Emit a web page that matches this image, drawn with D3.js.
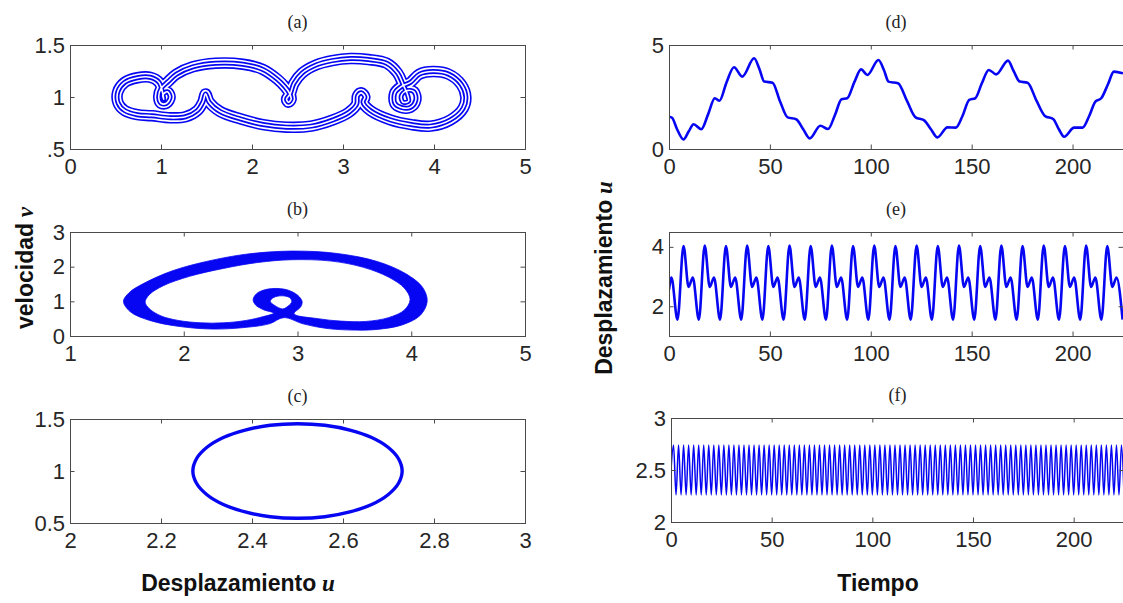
<!DOCTYPE html>
<html><head><meta charset="utf-8">
<script src="https://cdn.jsdelivr.net/npm/d3@7"></script>
<style>html,body{margin:0;padding:0;background:#fff}svg{display:block}</style>
</head><body>
<svg id="c" width="1123" height="603"></svg>
<script>
// ---------- DATA ----------
// (a) phase portrait orbit, pairs [u, v]
const orbitA = [
[1.49,1.03],[1.53,0.95],[1.65,0.86],[1.87,0.79],[2.12,0.735],[2.38,0.71],[2.65,0.72],[2.89,0.78],[3.06,0.85],[3.15,0.93],
[3.16,1.01],[3.2,1.04],[3.24,1.0],[3.22,0.95],[3.3,0.87],[3.52,0.78],[3.75,0.735],[3.96,0.72],[4.18,0.78],[4.32,0.89],
[4.35,1.0],[4.3,1.12],[4.16,1.22],[3.99,1.245],[3.84,1.22],[3.74,1.14],[3.64,1.1],[3.57,1.04],[3.57,0.94],[3.64,0.9],
[3.74,0.9],[3.8,0.97],[3.78,1.05],[3.7,1.06],[3.64,1.01],[3.66,0.95],[3.72,0.96],[3.71,1.02],[3.66,1.12],[3.6,1.23],
[3.48,1.325],[3.28,1.36],[3.08,1.37],[2.88,1.35],[2.71,1.31],[2.55,1.23],[2.46,1.13],[2.42,1.03],[2.38,0.98],[2.4,0.95],
[2.43,0.98],[2.41,1.04],[2.36,1.1],[2.28,1.17],[2.12,1.265],[1.9,1.315],[1.6,1.325],[1.35,1.29],[1.17,1.22],[1.08,1.15],
[1.0,1.08],[0.975,1.0],[1.0,0.94],[1.06,0.94],[1.1,1.0],[1.07,1.05],[1.02,1.02],[1.03,0.98],[0.98,1.14],[0.88,1.19],
[0.74,1.185],[0.6,1.14],[0.525,1.05],[0.53,0.94],[0.6,0.87],[0.74,0.83],[0.9,0.82],[1.1,0.8],[1.27,0.81],[1.4,0.87],
[1.46,0.95]
];
// (b) band of orbits: outer edge, large hole, small hole [u, v]
const bandOuterB = [
[1.47,1.0],[1.52,1.25],[1.65,1.52],[1.9,1.88],[2.2,2.15],[2.55,2.36],[2.95,2.45],[3.35,2.38],[3.7,2.15],[3.95,1.8],
[4.1,1.4],[4.14,1.0],[4.08,0.6],[3.92,0.32],[3.7,0.19],[3.5,0.17],[3.25,0.22],[3.05,0.35],[2.88,0.53],[2.75,0.35],
[2.55,0.25],[2.26,0.2],[1.95,0.28],[1.7,0.45],[1.53,0.7]
];
const holeBigB = [
[2.97,0.64],[3.03,0.85],[3.04,1.0],[3.0,1.18],[2.92,1.32],[2.83,1.37],[2.72,1.34],[2.64,1.22],[2.61,1.05],[2.63,0.9],
[2.7,0.76],[2.79,0.66],[2.7,0.56],[2.55,0.45],[2.35,0.38],[2.15,0.38],[1.95,0.45],[1.8,0.58],[1.7,0.78],[1.66,0.98],
[1.7,1.2],[1.82,1.45],[2.05,1.72],[2.35,1.95],[2.65,2.12],[2.95,2.2],[3.3,2.16],[3.58,1.98],[3.8,1.7],[3.94,1.38],
[3.99,1.05],[3.94,0.75],[3.8,0.53],[3.6,0.42],[3.38,0.43],[3.18,0.5]
];
const holeSmallB = [
[2.76,1.0],[2.79,1.11],[2.86,1.16],[2.93,1.11],[2.95,0.99],[2.92,0.87],[2.87,0.78],[2.8,0.88]
];
// (c) limit cycle [u, v]
const cycleC = [
[2.73,1.0],[2.722,1.118],[2.699,1.228],[2.663,1.322],[2.615,1.394],[2.56,1.44],[2.5,1.455],[2.44,1.44],
[2.385,1.394],[2.337,1.322],[2.301,1.228],[2.278,1.118],[2.27,1.0],[2.278,0.882],[2.301,0.772],[2.337,0.678],
[2.385,0.606],[2.44,0.56],[2.5,0.545],[2.56,0.56],[2.615,0.606],[2.663,0.678],[2.699,0.772],[2.722,0.882]
];
// (d) time series
const tD = [0,1.5,4,7.2,9.8,12.2,16,19.5,22.7,25,28.5,32.2,36.3,42.2,44.8,47.2,51.3,55,58.8,63,66.5,69.7,75,78.8,82.3,
85.5,88.3,91.8,95.2,98.3,103.8,106.5,108.8,113.5,118,122.2,126.3,129.8,133,138,142.2,145.5,148.8,151.8,155,158.5,
162.2,168,170.8,173.8,177.7,182,186.3,190.5,193.2,195.8,200.8,205,208.3,211.3,214.2,217.5,220.5,225];
const uD = [1.55,1.5,0.95,0.46,0.85,1.19,0.95,1.7,2.44,2.32,3.2,3.93,3.48,4.36,3.85,3.24,3.19,2.3,1.52,1.43,0.95,0.51,
1.12,0.96,1.65,2.39,2.44,3.2,3.83,3.56,4.28,3.8,3.24,3.16,2.3,1.52,1.39,0.95,0.56,1.04,1.03,1.6,2.36,2.44,3.15,3.8,
3.59,4.25,3.75,3.24,3.19,2.35,1.59,1.43,0.95,0.59,1.03,1.03,1.6,2.28,2.44,3.1,3.72,3.64];
// (e) time series
const tE = [0,1.2,4.2,
7.2,9.7,11.8,14.8, 17.7,20.2,22.3,25.3, 28.2,30.7,32.8,35.8, 38.7,41.2,43.3,46.3,
49.2,51.7,53.8,56.8, 59.7,62.2,64.3,67.3, 70.2,72.7,74.8,77.8, 80.7,83.2,85.3,88.3,
91.2,93.7,95.8,98.8, 101.7,104.2,106.3,109.3, 112.2,114.7,116.8,119.8, 122.7,125.2,127.3,130.3,
133.2,135.7,137.8,140.8, 143.7,146.2,148.3,151.3, 154.2,156.7,158.8,161.8, 164.7,167.2,169.3,172.3,
175.2,177.7,179.8,182.8, 185.7,188.2,190.3,193.3, 196.2,198.7,200.8,203.8, 206.7,209.2,211.3,214.3,
217.2,219.7,221.8,224.8];
const uE = [2.55,2.97,1.55,
4.03,2.65,2.97,1.55, 4.04,2.65,2.97,1.55, 4.03,2.65,2.97,1.55, 4.04,2.65,2.97,1.55,
4.03,2.65,2.97,1.55, 4.04,2.65,2.97,1.55, 4.03,2.65,2.97,1.55, 4.04,2.65,2.97,1.55,
4.03,2.65,2.97,1.55, 4.04,2.65,2.97,1.55, 4.03,2.65,2.97,1.55, 4.04,2.65,2.97,1.55,
4.03,2.65,2.97,1.55, 4.04,2.65,2.97,1.55, 4.03,2.65,2.97,1.55, 4.04,2.65,2.97,1.55,
4.03,2.65,2.97,1.55, 4.04,2.65,2.97,1.55, 4.03,2.65,2.97,1.55, 4.04,2.65,2.97,1.55,
4.03,2.65,2.97,1.55];
// (f) time series
const tF = [
0,1.25,2.5,3.75,5,6.25,7.5,8.75,10,11.25,12.5,13.75,15,16.25,17.5,18.75,
20,21.25,22.5,23.75,25,26.25,27.5,28.75,30,31.25,32.5,33.75,35,36.25,37.5,38.75,
40,41.25,42.5,43.75,45,46.25,47.5,48.75,50,51.25,52.5,53.75,55,56.25,57.5,58.75,
60,61.25,62.5,63.75,65,66.25,67.5,68.75,70,71.25,72.5,73.75,75,76.25,77.5,78.75,
80,81.25,82.5,83.75,85,86.25,87.5,88.75,90,91.25,92.5,93.75,95,96.25,97.5,98.75,
100,101.25,102.5,103.75,105,106.25,107.5,108.75,110,111.25,112.5,113.75,115,116.25,117.5,118.75,
120,121.25,122.5,123.75,125,126.25,127.5,128.75,130,131.25,132.5,133.75,135,136.25,137.5,138.75,
140,141.25,142.5,143.75,145,146.25,147.5,148.75,150,151.25,152.5,153.75,155,156.25,157.5,158.75,
160,161.25,162.5,163.75,165,166.25,167.5,168.75,170,171.25,172.5,173.75,175,176.25,177.5,178.75,
180,181.25,182.5,183.75,185,186.25,187.5,188.75,190,191.25,192.5,193.75,195,196.25,197.5,198.75,
200,201.25,202.5,203.75,205,206.25,207.5,208.75,210,211.25,212.5,213.75,215,216.25,217.5,218.75,
220,221.25,222.5,223.75,225];
const uF = [2.5,
2.74,2.26,2.74,2.26,2.74,2.26,2.74,2.26,2.74,2.26,2.74,2.26,2.74,2.26,2.74,2.26,
2.74,2.26,2.74,2.26,2.74,2.26,2.74,2.26,2.74,2.26,2.74,2.26,2.74,2.26,2.74,2.26,
2.74,2.26,2.74,2.26,2.74,2.26,2.74,2.26,2.74,2.26,2.74,2.26,2.74,2.26,2.74,2.26,
2.74,2.26,2.74,2.26,2.74,2.26,2.74,2.26,2.74,2.26,2.74,2.26,2.74,2.26,2.74,2.26,
2.74,2.26,2.74,2.26,2.74,2.26,2.74,2.26,2.74,2.26,2.74,2.26,2.74,2.26,2.74,2.26,
2.74,2.26,2.74,2.26,2.74,2.26,2.74,2.26,2.74,2.26,2.74,2.26,2.74,2.26,2.74,2.26,
2.74,2.26,2.74,2.26,2.74,2.26,2.74,2.26,2.74,2.26,2.74,2.26,2.74,2.26,2.74,2.26,
2.74,2.26,2.74,2.26,2.74,2.26,2.74,2.26,2.74,2.26,2.74,2.26,2.74,2.26,2.74,2.26,
2.74,2.26,2.74,2.26,2.74,2.26,2.74,2.26,2.74,2.26,2.74,2.26,2.74,2.26,2.74,2.26,
2.74,2.26,2.74,2.26,2.74,2.26,2.74,2.26,2.74,2.26,2.74,2.26,2.74,2.26,2.74,2.26,
2.74,2.26,2.74,2.26,2.74,2.26,2.74,2.26,2.74,2.26,2.74,2.26,2.74,2.26,2.74,2.26,
2.74,2.26,2.74,2.26];
// ticks
const xtA=[0,1,2,3,4,5], xlA=["0","1","2","3","4","5"], ytA=[0.5,1,1.5], ylA=[".5","1","1.5"];
const xtB=[1,2,3,4,5], xlB=["1","2","3","4","5"], ytB=[0,1,2,3], ylB=["0","1","2","3"];
const xtC=[2,2.2,2.4,2.6,2.8,3], xlC=["2","2.2","2.4","2.6","2.8","3"], ytC=[0.5,1,1.5], ylC=["0.5","1","1.5"];
const xtT=[0,50,100,150,200], xlT=["0","50","100","150","200"];
const ytD=[0,5], ylD=["0","5"];
const ytE=[2,4], ylE=["2","4"];
const ytF=[2,2.5,3], ylF=["2","2.5","3"];

// ---------- DRAWING ----------
const svg = d3.select("#c");
const defs = svg.append("defs");
const BLUE = "#0606f2";
const AX = "#4a4a4a";
const SANS = "'Liberation Sans', Arial, Helvetica, sans-serif";
const SERIF = "'Liberation Serif', 'Times New Roman', serif";

function panel(c){
  const x = d3.scaleLinear().domain(c.xd).range([c.l, c.r]);
  const y = d3.scaleLinear().domain(c.yd).range([c.b, c.t]);
  const g = svg.append("g");
  defs.append("clipPath").attr("id","cl"+c.name).append("rect")
    .attr("x",c.l).attr("y",c.t).attr("width",c.r-c.l).attr("height",c.b-c.t);
  const plot = g.append("g").attr("clip-path","url(#cl"+c.name+")");
  const ax = g.append("g");
  const tl = 4.5;
  const lab = arr => (d,i) => arr[i];
  ax.append("g").attr("transform",`translate(0,${c.b})`)
    .call(d3.axisBottom(x).tickValues(c.xt).tickFormat(lab(c.xl)).tickSizeInner(-tl).tickSizeOuter(0).tickPadding(9));
  ax.append("g").attr("transform",`translate(0,${c.t})`)
    .call(d3.axisTop(x).tickValues(c.xt).tickFormat("").tickSizeInner(-tl).tickSizeOuter(0));
  ax.append("g").attr("transform",`translate(${c.l},0)`)
    .call(d3.axisLeft(y).tickValues(c.yt).tickFormat(lab(c.yl)).tickSizeInner(-tl).tickSizeOuter(0).tickPadding(5));
  ax.append("g").attr("transform",`translate(${c.r},0)`)
    .call(d3.axisRight(y).tickValues(c.yt).tickFormat("").tickSizeInner(-tl).tickSizeOuter(0));
  ax.selectAll(".domain").remove();
  ax.selectAll(".tick line").attr("stroke",AX);
  ax.selectAll("g").attr("font-family",SANS).attr("font-size",22);
  ax.selectAll(".tick text").attr("fill","#262626");
  ax.append("rect").attr("x",c.l+0.5).attr("y",c.t+0.5).attr("width",c.r-c.l).attr("height",c.b-c.t)
    .attr("fill","none").attr("stroke",AX).attr("stroke-width",1);
  g.append("text").attr("x",(c.l+c.r)/2).attr("y",c.t-23).attr("text-anchor","middle")
    .attr("dominant-baseline","central").attr("font-family",SERIF).attr("font-size",18).attr("fill","#222").text(c.title);
  return {x, y, plot};
}

const A = panel({name:"a",l:70,r:525,t:45,b:149,xd:[0,5],yd:[0.5,1.5],xt:xtA,xl:xlA,yt:ytA,yl:ylA,title:"(a)"});
const B = panel({name:"b",l:70,r:525,t:232,b:336,xd:[1,5],yd:[0,3],xt:xtB,xl:xlB,yt:ytB,yl:ylB,title:"(b)"});
const C = panel({name:"c",l:70,r:525,t:419,b:523,xd:[2,3],yd:[0.5,1.5],xt:xtC,xl:xlC,yt:ytC,yl:ylC,title:"(c)"});
const D = panel({name:"d",l:669,r:1123,t:45,b:149,xd:[0,225],yd:[0,5],xt:xtT,xl:xlT,yt:ytD,yl:ylD,title:"(d)"});
const E = panel({name:"e",l:669,r:1123,t:232,b:336,xd:[0,225],yd:[1,4.5],xt:xtT,xl:xlT,yt:ytE,yl:ylE,title:"(e)"});
const F = panel({name:"f",l:671,r:1124,t:418,b:522,xd:[0,225],yd:[2,3],xt:xtT,xl:xlT,yt:ytF,yl:ylF,title:"(f)"});

// (a) multi-strand orbit
const lineA = d3.line().x(d=>A.x(d[0])).y(d=>A.y(d[1])).curve(d3.curveCatmullRomClosed.alpha(0.5));
[[11.5,BLUE],[8.3,"#fff"],[5.0,BLUE],[1.6,"#fff"]].forEach(([w,col])=>{
  A.plot.append("path").attr("d",lineA(orbitA)).attr("fill","none").attr("stroke",col)
    .attr("stroke-width",w).attr("stroke-linejoin","round");
});

// (b) band
const ringB = d3.line().x(d=>B.x(d[0])).y(d=>B.y(d[1])).curve(d3.curveCatmullRomClosed.alpha(0.5));
B.plot.append("path").attr("d",ringB(bandOuterB)+ringB(holeBigB)+ringB(holeSmallB))
  .attr("fill",BLUE).attr("fill-rule","evenodd").attr("stroke",BLUE).attr("stroke-width",0.8);

// (c) limit cycle
const ringC = d3.line().x(d=>C.x(d[0])).y(d=>C.y(d[1])).curve(d3.curveCatmullRomClosed.alpha(0.5));
C.plot.append("path").attr("d",ringC(cycleC)).attr("fill","none").attr("stroke",BLUE).attr("stroke-width",3.4);

// time series
function series(P, t, u, w){
  const ln = d3.line().x((d,i)=>P.x(t[i])).y(d=>P.y(d)).curve(d3.curveMonotoneX);
  P.plot.append("path").attr("d",ln(u)).attr("fill","none").attr("stroke",BLUE).attr("stroke-width",w).attr("stroke-linejoin","round");
}
series(D, tD, uD, 2.6);
series(E, tE, uE, 2.6);
series(F, tF, uF, 1.5);

// axis labels
function lbl(x,y,rot,main,sym){
  const t = svg.append("text").attr("transform",`translate(${x},${y}) rotate(${rot})`)
    .attr("text-anchor","middle").attr("dominant-baseline","central")
    .attr("font-family",SANS).attr("font-weight","bold").attr("font-size",23).attr("fill","#111");
  t.append("tspan").text(main);
  if(sym) t.append("tspan").attr("font-family",SERIF).attr("font-style","italic").text(" "+sym);
}
lbl(25,268,-90,"velocidad","ν");
lbl(604,278,-90,"Desplazamiento","u");
lbl(238,583,0,"Desplazamiento","u");
lbl(878,583,0,"Tiempo",null);
</script>
</body></html>
